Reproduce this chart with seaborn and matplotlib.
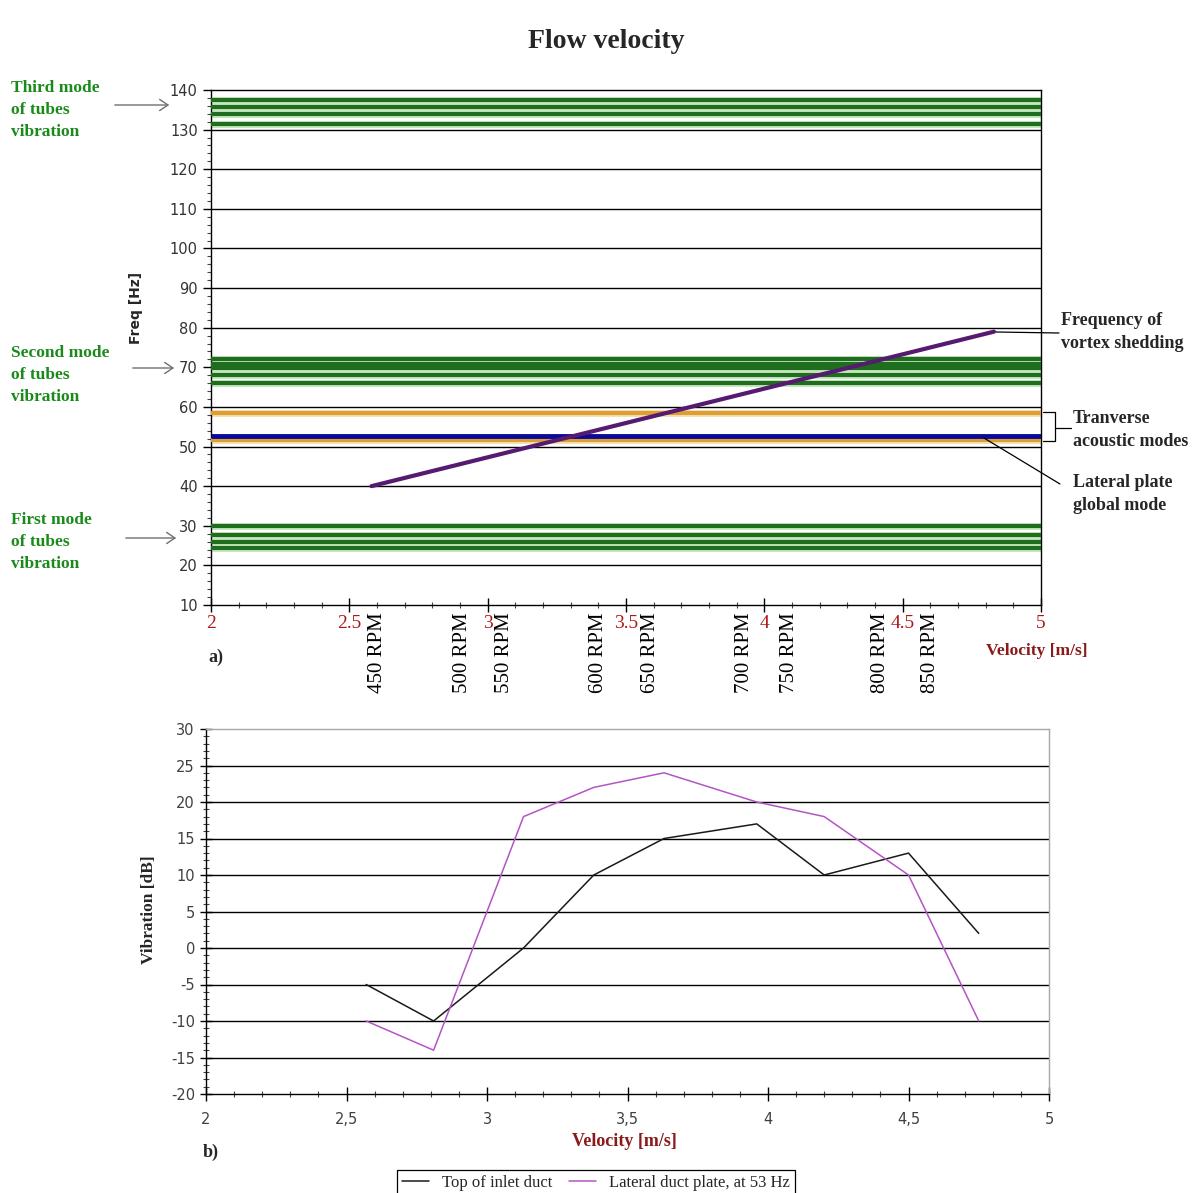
import numpy as np
import pandas as pd
import matplotlib
matplotlib.use("Agg")
import matplotlib.pyplot as plt
import seaborn as sns
from matplotlib.lines import Line2D
from matplotlib.ticker import MultipleLocator, FixedLocator, FixedFormatter

# ---------------- data ----------------
# a) Campbell-type diagram
tube_mode1 = [30.0, 27.7, 26.0, 24.5]
tube_mode2 = [72.0, 70.9, 69.7, 68.0, 66.1]
tube_mode3 = [137.6, 135.7, 133.9, 131.5]
acoustic_modes = [58.4, 51.6]
plate_mode = [52.7]
vortex_vel = [2.58, 4.83]
vortex_freq = [40.0, 79.0]
rpm_labels = ["450 RPM", "500 RPM", "550 RPM", "600 RPM", "650 RPM",
              "700 RPM", "750 RPM", "800 RPM", "850 RPM"]
rpm_vel = [2.60, 2.91, 3.06, 3.40, 3.59, 3.93, 4.09, 4.42, 4.60]

# b) vibration levels
vel = [2.57, 2.81, 3.13, 3.38, 3.63, 3.96, 4.20, 4.50, 4.75]
top_inlet = [-5, -10, 0, 10, 15, 17, 10, 13, 2]
lateral_plate = [-10, -14, 18, 22, 24, 20, 18, 10, -10]
bottom_xticks = [2, 2.5, 3, 3.5, 4, 4.5, 5]
bottom_xticklabels = ["2", "2,5", "3", "3,5", "4", "4,5", "5"]

W, H = 1202, 1193


def fx(x):
    return x / W


def fy(y):
    return 1 - y / H


sns.set_style("white")
plt.rcParams['font.family'] = ['DejaVu Sans']
plt.rcParams['axes.unicode_minus'] = False
SERIF = 'Liberation Serif'

fig = plt.figure(figsize=(W / 100, H / 100), dpi=100)
fig.patch.set_facecolor('white')

# ================= a) =================
ax1 = fig.add_axes([fx(211), fy(605), fx(1041) - fx(211), fy(90) - fy(605)])
ax1.set_xlim(2, 5)
ax1.set_ylim(10, 140)

for y in range(20, 140, 10):
    ax1.axhline(y, color='black', lw=1, zorder=1)

green_all = tube_mode1 + tube_mode2 + tube_mode3
ax1.hlines(green_all, 2, 5, color='#c6e8bd', lw=5, zorder=2)
ax1.hlines(green_all, 2, 5, color='#1f6e1f', lw=3, zorder=3)
ax1.hlines(acoustic_modes, 2, 5, color='#f5e2b0', lw=5, zorder=2)
ax1.hlines(acoustic_modes, 2, 5, color='#dc9e35', lw=3, zorder=3)
ax1.hlines(plate_mode, 2, 5, color='#0a0a9a', lw=3.5, zorder=4)

vortex = pd.DataFrame({'v': vortex_vel, 'f': vortex_freq})
sns.lineplot(data=vortex, x='v', y='f', ax=ax1, color='#561a70', lw=3,
             zorder=5, estimator=None)

ax1.set_xlabel('')
ax1.set_ylabel('Freq [Hz]', fontsize=10, fontweight='bold')
ax1.yaxis.set_label_coords(-0.082, 0.577)

ax1.set_xticks([2, 2.5, 3, 3.5, 4, 4.5, 5])
ax1.set_xticklabels(["2", "2.5", "3", "3.5", "4", "4.5", "5"])
ax1.xaxis.set_minor_locator(MultipleLocator(0.1))
ax1.yaxis.set_major_locator(MultipleLocator(10))
ax1.yaxis.set_minor_locator(MultipleLocator(2))
ax1.tick_params(axis='x', which='major', direction='inout', length=10,
                width=1, color='black', labelsize=14, labelcolor='#b01818', pad=2)
ax1.tick_params(axis='x', which='minor', direction='inout', length=4,
                width=0.8, color='#444444')
ax1.tick_params(axis='y', which='major', direction='out', length=6,
                width=1, color='black', labelsize=10.5, labelcolor='#333333')
ax1.tick_params(axis='y', which='minor', direction='out', length=3,
                width=0.8, color='#444444')
ax1.tick_params(bottom=True, left=True, which='both')
for lab in ax1.get_xticklabels():
    lab.set_fontfamily(SERIF)
for sp in ax1.spines.values():
    sp.set_color('black')
    sp.set_linewidth(1)

# RPM labels under the velocity axis
for v, lab in zip(rpm_vel, rpm_labels):
    ax1.text(v, -0.014, lab, transform=ax1.get_xaxis_transform(),
             rotation=90, ha='center', va='top', fontsize=15,
             family=SERIF, color='black')

fig.text(fx(1037), fy(651), 'Velocity [m/s]', ha='center', va='center',
         fontsize=12.5, fontweight='bold', family=SERIF, color='#8b1a1a')
fig.text(fx(208), fy(657), 'a)', ha='left', va='center', fontsize=13,
         fontweight='bold', family=SERIF)
fig.text(fx(606), fy(42), 'Flow velocity', ha='center', va='center',
         fontsize=20, fontweight='bold', family=SERIF)

# left labels for tube modes
green_txt = '#1a8a1a'
for txt, ty in [("Third mode\nof tubes\nvibration", 110),
                ("Second mode\nof tubes\nvibration", 375),
                ("First mode\nof tubes\nvibration", 542)]:
    fig.text(fx(11), fy(ty), txt, ha='left', va='center', fontsize=12.5,
             fontweight='bold', family=SERIF, color=green_txt, linespacing=1.5)

arrow_rows = [(112, 172, 105), (130, 177, 368), (123, 179, 538)]
for x0, x1, yy in arrow_rows:
    fig.add_artist(matplotlib.patches.FancyArrowPatch(
        (fx(x0), fy(yy)), (fx(x1), fy(yy)), transform=fig.transFigure,
        arrowstyle='->,head_length=6,head_width=4', color='#707070', lw=1))

# right annotations
for txt, ty in [("Frequency of\nvortex shedding", 332)]:
    fig.text(fx(1061), fy(ty), txt, ha='left', va='center', fontsize=13,
             fontweight='bold', family=SERIF, linespacing=1.4)
for txt, ty in [("Tranverse\nacoustic modes", 430),
                ("Lateral plate\nglobal mode", 494)]:
    fig.text(fx(1073), fy(ty), txt, ha='left', va='center', fontsize=13,
             fontweight='bold', family=SERIF, linespacing=1.4)

connectors = [
    ([996, 1059], [332, 333]),
    ([1043, 1055, 1055, 1043], [412, 412, 441, 441]),
    ([1055, 1071], [428, 428]),
    ([984, 1060], [438, 484]),
]
for xs, ys in connectors:
    fig.add_artist(Line2D([fx(x) for x in xs], [fy(y) for y in ys],
                          transform=fig.transFigure, color='black', lw=0.9))

# ================= b) =================
ax2 = fig.add_axes([fx(206), fy(1094), fx(1049) - fx(206), fy(729) - fy(1094)])
vib = pd.DataFrame({
    'Velocity': vel * 2,
    'Vibration': top_inlet + lateral_plate,
    'Series': ['Top of inlet duct'] * len(vel) + ['Lateral duct plate, at 53 Hz'] * len(vel),
})
sns.lineplot(data=vib, x='Velocity', y='Vibration', hue='Series', ax=ax2,
             palette={'Top of inlet duct': '#1a1a1a',
                      'Lateral duct plate, at 53 Hz': '#b455c4'},
             lw=1.1, estimator=None, sort=True, zorder=3)
ax2.set_xlim(2, 5)
ax2.set_ylim(-20, 30)
for y in range(-15, 30, 5):
    ax2.axhline(y, color='black', lw=1, zorder=1)

ax2.xaxis.set_major_locator(FixedLocator(bottom_xticks))
ax2.xaxis.set_major_formatter(FixedFormatter(bottom_xticklabels))
ax2.xaxis.set_minor_locator(MultipleLocator(0.1))
ax2.yaxis.set_major_locator(MultipleLocator(5))
ax2.yaxis.set_minor_locator(MultipleLocator(1))
ax2.tick_params(axis='x', which='major', direction='inout', length=10,
                width=1, color='black', labelsize=10.5, labelcolor='#404040', pad=8)
ax2.tick_params(axis='x', which='minor', direction='inout', length=5,
                width=0.8, color='#444444')
ax2.tick_params(axis='y', which='major', direction='inout', length=8,
                width=1, color='black', labelsize=10.5, labelcolor='#404040', pad=4)
ax2.tick_params(axis='y', which='minor', direction='inout', length=4,
                width=0.8, color='#444444')
ax2.tick_params(bottom=True, left=True, which='both')

ax2.set_xlabel('Velocity [m/s]', fontsize=13, fontweight='bold',
               family=SERIF, color='#8b1a1a')
ax2.xaxis.set_label_coords(0.496, -0.108)
ax2.set_ylabel('Vibration [dB]', fontsize=12.5, fontweight='bold',
               family=SERIF)
ax2.yaxis.set_label_coords(-0.058, 0.504)

ax2.spines['left'].set_color('black')
ax2.spines['bottom'].set_color('black')
ax2.spines['top'].set_color('#a8a8a8')
ax2.spines['right'].set_color('#a8a8a8')
for sp in ax2.spines.values():
    sp.set_linewidth(1)

leg = ax2.get_legend()
handles = leg.legend_handles
labels = [t.get_text() for t in leg.get_texts()]
leg.remove()
new_leg = ax2.legend(handles, labels, loc='upper center',
                     bbox_to_anchor=(fx(596), fy(1170)),
                     bbox_transform=fig.transFigure, ncol=2, frameon=True,
                     fancybox=False, edgecolor='black', framealpha=1,
                     borderaxespad=0, handlelength=1.6, columnspacing=1.0,
                     borderpad=0.3, prop={'family': SERIF, 'size': 12})
new_leg.get_frame().set_linewidth(0.9)

fig.text(fx(203), fy(1152), 'b)', ha='left', va='center', fontsize=13,
         fontweight='bold', family=SERIF)

fig.savefig('out.png', dpi=100, facecolor='white')
